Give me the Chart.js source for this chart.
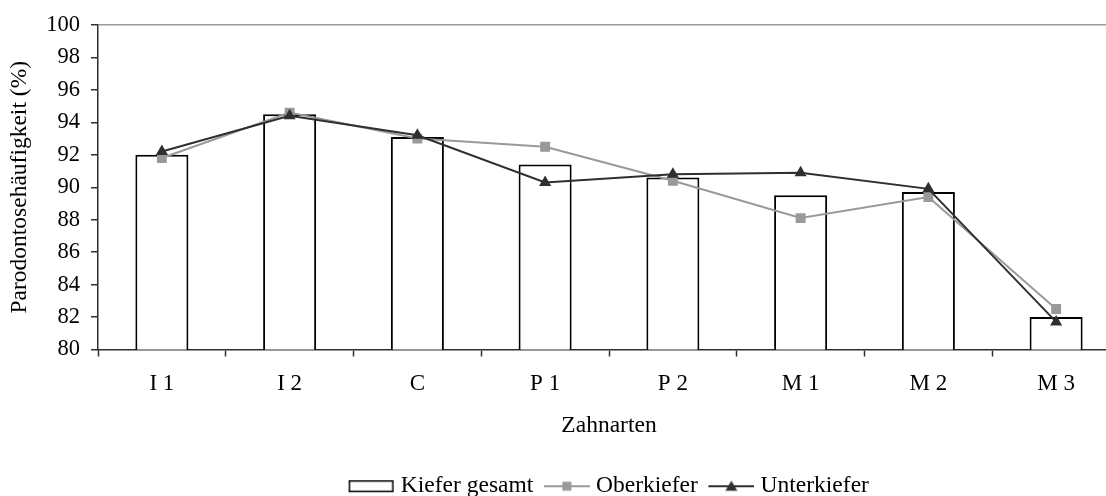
<!DOCTYPE html>
<html>
<head>
<meta charset="utf-8">
<script src="https://cdn.jsdelivr.net/npm/chart.js@4"></script>
<style>
  html, body { margin: 0; padding: 0; background: #fff; overflow: hidden; }
  #wrap { width: 1218px; height: 508px; }
</style>
</head>
<body>
<div id="wrap"><canvas id="c"></canvas></div>
<script>
// Tooth types and periodontitis frequency (%)
const zahnarten = ['I 1', 'I 2', 'C', 'P 1', 'P 2', 'M 1', 'M 2', 'M 3'];
const kieferGesamt = [92.0, 94.5, 93.1, 91.4, 90.6, 89.5, 89.7, 82.0];
const oberkiefer   = [91.8, 94.6, 93.0, 92.5, 90.4, 88.1, 89.4, 82.5];
const unterkiefer  = [92.2, 94.4, 93.2, 90.3, 90.8, 90.9, 89.9, 81.7];
const yTicks = [80, 82, 84, 86, 88, 90, 92, 94, 96, 98, 100];

const FAMILY = '"Liberation Serif", "Times New Roman", serif';
const TICK_FONT = { family: FAMILY, size: 22.5 };
const TEXT_FONT = { family: FAMILY, size: 23.5, weight: 'normal' };
const DARK = '#2f2f2f';
const GREY = '#999999';

// Legend glyphs: outlined box, line with square, line with triangle.
// The glyph sits in the right part of a 51px canvas so the text follows closely.
function glyph(kind) {
  const W = 51, H = 16, x0 = 5, gw = 46;
  const cv = document.createElement('canvas');
  cv.width = W; cv.height = H;
  const g = cv.getContext('2d');
  if (kind === 'bar') {
    g.fillStyle = '#fff';
    g.strokeStyle = '#000';
    g.lineWidth = 1.5;
    g.fillRect(x0, 2, gw - 1, 12);
    g.strokeRect(x0 + 0.75, 2.75, gw - 2.5, 10.5);
  } else {
    const col = kind === 'square' ? GREY : DARK;
    const cx = x0 + gw / 2;
    g.strokeStyle = col; g.lineWidth = 2;
    g.beginPath(); g.moveTo(x0, 8); g.lineTo(x0 + gw, 8); g.stroke();
    g.fillStyle = col;
    if (kind === 'square') {
      g.fillRect(cx - 4.5, 3.5, 9, 9);
    } else {
      g.beginPath(); g.moveTo(cx, 2.5); g.lineTo(cx + 6, 12.5); g.lineTo(cx - 6, 12.5); g.closePath(); g.fill();
    }
  }
  return cv;
}
const glyphs = [glyph('bar'), glyph('square'), glyph('triangle')];

new Chart(document.getElementById('c'), {
  data: {
    labels: zahnarten,
    datasets: [
      {
        type: 'bar', label: 'Kiefer gesamt', data: kieferGesamt, order: 2,
        backgroundColor: '#ffffff', borderColor: '#000000', borderWidth: 2,
        categoryPercentage: 1, barPercentage: 0.415
      },
      {
        type: 'line', label: 'Oberkiefer', data: oberkiefer, order: 1,
        borderColor: GREY, backgroundColor: GREY, borderWidth: 2,
        pointStyle: 'rect', pointRadius: 7, pointBorderWidth: 0, tension: 0
      },
      {
        type: 'line', label: 'Unterkiefer', data: unterkiefer, order: 0,
        borderColor: DARK, backgroundColor: DARK, borderWidth: 2,
        pointStyle: 'triangle', pointRadius: 7, pointBorderWidth: 0, tension: 0
      }
    ]
  },
  options: {
    responsive: true,
    maintainAspectRatio: false,
    animation: false,
    layout: { padding: { top: 25, right: 98, left: 0, bottom: 0 } },
    scales: {
      x: {
        offset: true,
        grid: { display: true, drawOnChartArea: false, offset: true, tickLength: 7, tickColor: DARK, tickWidth: 1.5 },
        border: { display: true, color: DARK, width: 1.5 },
        ticks: { color: '#000', font: { family: FAMILY, size: 23 }, padding: 14, maxRotation: 0 },
        title: { display: true, text: 'Zahnarten', color: '#000', font: TEXT_FONT, padding: { top: 0, bottom: 24 } },
        afterFit: s => { s.height = 114; }
      },
      y: {
        min: 80, max: 100,
        afterBuildTicks: s => { s.ticks = yTicks.map(v => ({ value: v })); },
        grid: {
          color: c => (c.tick && c.tick.value === 100 ? GREY : 'rgba(0,0,0,0)'),
          tickColor: DARK, tickLength: 7, lineWidth: 1.5, tickWidth: 1.5
        },
        border: { display: true, color: DARK, width: 1.5 },
        ticks: { color: '#000', font: TICK_FONT, padding: 11 },
        title: { display: true, text: 'Parodontosehäufigkeit (%)', color: '#000', font: TEXT_FONT, padding: { top: 6, bottom: 0 } },
        afterFit: s => { s.width = 98; }
      }
    },
    plugins: {
      tooltip: { enabled: false },
      legend: {
        position: 'bottom',
        fullSize: false,
        labels: {
          color: '#000', font: TEXT_FONT, usePointStyle: true, pointStyleWidth: 40, boxHeight: 16, padding: 11,
          generateLabels: chart => chart.data.datasets.map((ds, i) => ({
            text: ds.label, pointStyle: glyphs[i], datasetIndex: i,
            fillStyle: '#fff', strokeStyle: '#000', lineWidth: 0, hidden: false, fontColor: '#000'
          }))
        }
      }
    }
  }
});
</script>
</body>
</html>
